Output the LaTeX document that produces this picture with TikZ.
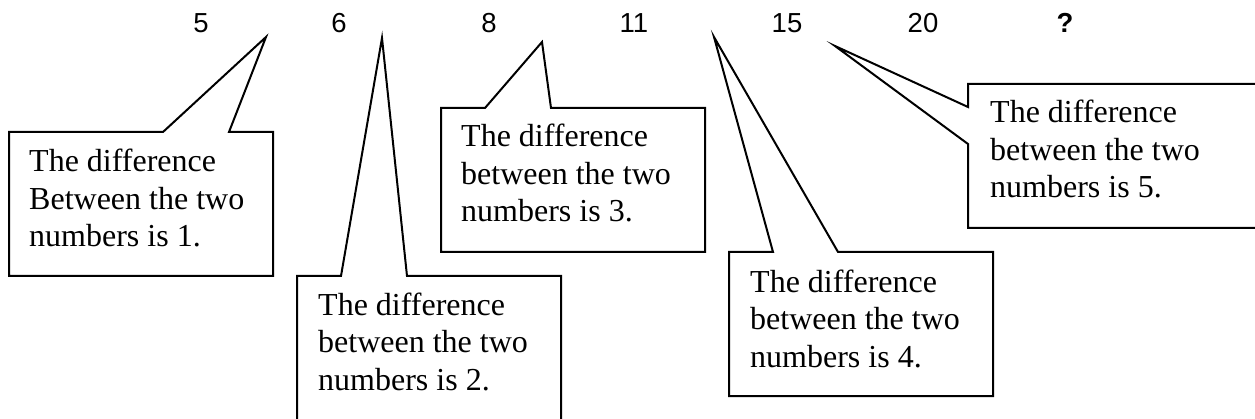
\documentclass[tikz,border=0pt]{standalone}
\usepackage{fontspec}
\setmainfont{Liberation Serif}
\newfontfamily\arialfont{Liberation Sans}
\begin{document}
\begin{tikzpicture}[x=1pt,y=-1pt,
  callout/.style={draw=black,line width=2pt,line join=miter,fill=white},
  num/.style={anchor=base,inner sep=0pt,font=\arialfont\fontsize{27.5}{30}\selectfont},
  txt/.style={anchor=base west,inner sep=0pt,align=left,font=\fontsize{32}{37.5}\selectfont}]
\useasboundingbox (0,0) rectangle (1255,419);
% numbers
\node[num] (n5) at (201,33) {5};
\node[num] (n6) at (339,33) {6};
\node[num] (n8) at (489,33) {8};
\node[num] (n11) at (634,33) {11};
\node[num] (n15) at (787,33) {15};
\node[num] (n20) at (923,33) {20};
\node[num,font=\arialfont\bfseries\fontsize{27.5}{30}\selectfont] (nq) at (1065,33) {?};
% pointer tips
\coordinate (t1) at (266,37);
\coordinate (t2) at (382,38);
\coordinate (t3) at (542,42);
\coordinate (t4) at (714,37);
\coordinate (t5) at (835,46);
% callouts
\draw[callout] (9,132) -- (163,132) -- (t1) -- (229,132) -- (273,132) -- (273,276) -- (9,276) -- cycle;
\draw[callout] (297,276) -- (341,276) -- (t2) -- (407,276) -- (561,276) -- (561,420) -- (297,420) -- cycle;
\draw[callout] (441,108) -- (485,108) -- (t3) -- (551,108) -- (705,108) -- (705,252) -- (441,252) -- cycle;
\draw[callout] (729,252) -- (773,252) -- (t4) -- (838,252) -- (993,252) -- (993,396) -- (729,396) -- cycle;
\draw[callout] (968,84) -- (1262,84) -- (1262,228) -- (968,228) -- (968,144) -- (t5) -- (968,107) -- cycle;
% texts (anchor at baseline of last line)
\node[txt] (c1) at (29,247) {The difference\\Between the two\\numbers is 1.};
\node[txt] (c2) at (318,390) {The difference\\between the two\\numbers is 2.};
\node[txt] (c3) at (461,222) {The difference\\between the two\\numbers is 3.};
\node[txt] (c4) at (750,367) {The difference\\between the two\\numbers is 4.};
\node[txt] (c5) at (990,198) {The difference\\between the two\\numbers is 5.};
\end{tikzpicture}
\end{document}
